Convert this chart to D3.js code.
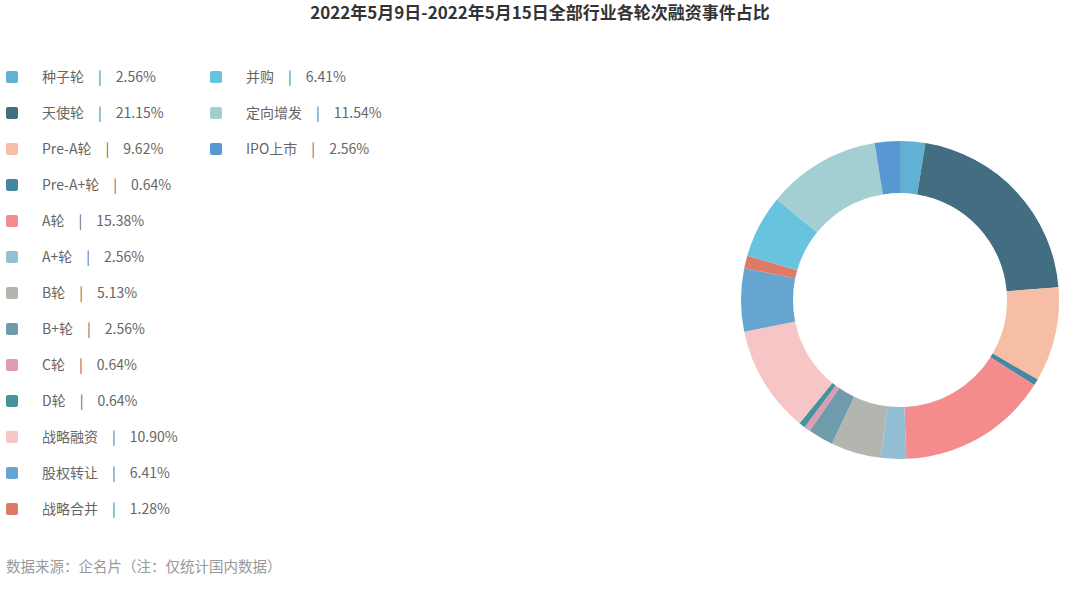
<!DOCTYPE html>
<html>
<head>
<meta charset="utf-8">
<script src="https://cdn.jsdelivr.net/npm/d3@7/dist/d3.min.js"></script>
<style>
  body { margin: 0; background: #fff; }
  svg { display: block; font-family: "Noto Sans CJK SC", "Noto Sans", sans-serif; }
</style>
</head>
<body>
<svg id="chart" width="1080" height="600"></svg>
<script>
// data
var categories = ["种子轮", "天使轮", "Pre-A轮", "Pre-A+轮", "A轮", "A+轮", "B轮", "B+轮",
                  "C轮", "D轮", "战略融资", "股权转让", "战略合并", "并购", "定向增发", "IPO上市"];
var shares = [2.56, 21.15, 9.62, 0.64, 15.38, 2.56, 5.13, 2.56,
              0.64, 0.64, 10.90, 6.41, 1.28, 6.41, 11.54, 2.56];
var colors = ["#60b1d4", "#436d80", "#f5bea5", "#4686a1", "#f48b8d", "#92bfd3", "#b3b6af", "#6f9bab",
              "#df9bb2", "#46939e", "#f5c6c5", "#67a5d1", "#df7a68", "#68c3df", "#a4cfd2", "#5798d3"];

var title = "2022年5月9日-2022年5月15日全部行业各轮次融资事件占比";
var source = "数据来源：企名片（注：仅统计国内数据）";

var svg = d3.select("#chart");

// title
svg.append("text")
  .attr("x", 540)
  .attr("y", 19)
  .attr("text-anchor", "middle")
  .style("font-size", "17px")
  .style("font-weight", "bold")
  .style("fill", "#333")
  .text(title);

// donut
var cx = 900, cy = 300;
var pie = d3.pie().sort(null).value(function(d) { return d; });
var arc = d3.arc().innerRadius(107).outerRadius(159);

var g = svg.append("g").attr("transform", "translate(" + cx + "," + cy + ")");
g.selectAll("path")
  .data(pie(shares))
  .enter().append("path")
  .attr("d", arc)
  .attr("fill", function(d, i) { return colors[i]; });

// legend: two columns, first 13 items on the left
var perCol = 13;
var leg = svg.append("g");
var item = leg.selectAll("g.item")
  .data(categories)
  .enter().append("g")
  .attr("class", "item")
  .attr("transform", function(d, i) {
    var col = Math.floor(i / perCol), row = i % perCol;
    return "translate(" + (6 + col * 204) + "," + (77 + row * 36) + ")";
  });

item.append("rect")
  .attr("x", 0).attr("y", -6)
  .attr("width", 12).attr("height", 12)
  .attr("rx", 2)
  .attr("fill", function(d, i) { return colors[i]; });

var txt = item.append("text")
  .attr("x", 36)
  .attr("y", 5)
  .style("font-size", "14px")
  .style("fill", "#666");
txt.append("tspan").text(function(d) { return d; });
txt.append("tspan").attr("dx", 14).text("|");
txt.append("tspan").attr("dx", 14).text(function(d, i) { return shares[i].toFixed(2) + "%"; });

// source note
svg.append("text")
  .attr("x", 6)
  .attr("y", 572)
  .style("font-size", "14.5px")
  .style("fill", "#999")
  .text(source);
</script>
</body>
</html>
